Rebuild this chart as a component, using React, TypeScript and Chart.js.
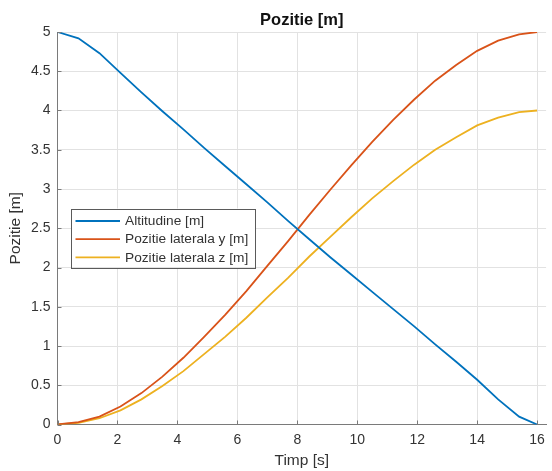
import React, { useEffect, useRef } from "react";
import { Chart, registerables } from "chart.js";

Chart.register(...registerables);

const timeS = [0, 0.7, 1.4, 2.1, 2.8, 3.5, 4.2, 4.9, 5.6, 6.3, 7.0, 7.7, 8.4, 9.1, 9.8, 10.5, 11.2, 11.9, 12.6, 13.3, 14.0, 14.7, 15.4, 16.0];
const altitude = [5.0, 4.92, 4.73, 4.48, 4.23, 3.99, 3.76, 3.52, 3.29, 3.06, 2.83, 2.59, 2.36, 2.13, 1.91, 1.69, 1.47, 1.25, 1.02, 0.8, 0.57, 0.32, 0.1, 0.0];
const lateralY = [0, 0.03, 0.1, 0.23, 0.4, 0.61, 0.85, 1.12, 1.4, 1.7, 2.02, 2.34, 2.67, 2.99, 3.3, 3.6, 3.88, 4.14, 4.38, 4.58, 4.76, 4.89, 4.97, 5.0];
const lateralZ = [0, 0.02, 0.08, 0.18, 0.32, 0.49, 0.68, 0.9, 1.12, 1.36, 1.62, 1.87, 2.14, 2.39, 2.64, 2.88, 3.1, 3.31, 3.5, 3.66, 3.81, 3.91, 3.98, 4.0];

const xTicks = [0, 2, 4, 6, 8, 10, 12, 14, 16];
const yTicks = [0, 0.5, 1, 1.5, 2, 2.5, 3, 3.5, 4, 4.5, 5];

const seriesLabels = ["Altitudine [m]", "Pozitie laterala y [m]", "Pozitie laterala z [m]"];
const seriesColors = ["#0072BD", "#D95319", "#EDB120"];
const seriesValues = [altitude, lateralY, lateralZ];

const chartTitle = "Pozitie [m]";
const xTitle = "Timp [s]";
const yTitle = "Pozitie [m]";

const FONT = "'Liberation Sans', Arial, Helvetica, sans-serif";
const TEXT = "#333333";
const AXIS = "#7a7a7a";
const GRID = "#e2e2e2";

const innerTicksPlugin = {
  id: "innerTicks",
  afterDraw(chart: any) {
    const ctx = chart.ctx;
    const { left, bottom } = chart.chartArea;
    const xs = chart.scales.x;
    const ys = chart.scales.y;
    ctx.save();
    ctx.strokeStyle = AXIS;
    ctx.lineWidth = 1;
    ctx.beginPath();
    xTicks.forEach((v) => {
      const px = Math.round(xs.getPixelForValue(v)) + 0.5;
      ctx.moveTo(px, bottom);
      ctx.lineTo(px, bottom - 4);
    });
    yTicks.forEach((v) => {
      const py = Math.round(ys.getPixelForValue(v)) + 0.5;
      ctx.moveTo(left, py);
      ctx.lineTo(left + 4, py);
    });
    ctx.stroke();
    ctx.restore();
  },
};

const insetLegendPlugin = {
  id: "insetLegend",
  afterDraw(chart: any) {
    const ctx = chart.ctx;
    const { left, top } = chart.chartArea;
    const bx = left + 13.5;
    const by = top + 176.5;
    const bw = 184;
    const bh = 58.5;
    ctx.save();
    ctx.fillStyle = "#ffffff";
    ctx.fillRect(bx, by, bw, bh);
    ctx.strokeStyle = "#5a5a5a";
    ctx.lineWidth = 1;
    ctx.strokeRect(Math.round(bx) + 0.5, Math.round(by) + 0.5, Math.round(bw), Math.round(bh));
    ctx.font = `13.7px ${FONT}`;
    ctx.textBaseline = "middle";
    ctx.textAlign = "left";
    chart.data.datasets.forEach((ds: any, i: number) => {
      const cy = by + 12.5 + i * 18.2;
      ctx.strokeStyle = ds.borderColor;
      ctx.lineWidth = 1.8;
      ctx.beginPath();
      ctx.moveTo(bx + 4.5, cy);
      ctx.lineTo(bx + 49, cy);
      ctx.stroke();
      ctx.fillStyle = TEXT;
      ctx.fillText(ds.label, bx + 54, cy + 0.5);
    });
    ctx.restore();
  },
};

export default function App() {
  const canvasRef = useRef<HTMLCanvasElement | null>(null);

  useEffect(() => {
    document.body.style.margin = "0";
    const canvas = canvasRef.current;
    if (!canvas) return;
    const chart = new Chart(canvas, {
      type: "line",
      data: {
        datasets: seriesValues.map((vals, i) => ({
          label: seriesLabels[i],
          data: timeS.map((t, k) => ({ x: t, y: vals[k] })),
          borderColor: seriesColors[i],
          backgroundColor: seriesColors[i],
          borderWidth: 1.8,
          pointRadius: 0,
          tension: 0,
          fill: false,
        })),
      },
      options: {
        responsive: false,
        animation: false,
        layout: { padding: 0 },
        plugins: {
          legend: { display: false },
          tooltip: { enabled: false },
          title: {
            display: true,
            text: chartTitle,
            fullSize: false,
            color: "#111",
            font: { family: FONT, size: 16.5, weight: "bold" },
            padding: { top: 11, bottom: 1.2 },
          },
        },
        scales: {
          x: {
            type: "linear",
            min: 0,
            max: 16.3,
            afterBuildTicks: (s: any) => {
              s.ticks = xTicks.map((v) => ({ value: v }));
            },
            afterFit: (s: any) => {
              s.height = 46.5;
            },
            ticks: {
              color: TEXT,
              font: { family: FONT, size: 14 },
              padding: 7,
              maxRotation: 0,
              callback: (v: any) => String(v),
            },
            grid: { color: GRID, drawTicks: false, lineWidth: 1 },
            border: { display: true, color: AXIS, width: 1 },
            title: {
              display: true,
              text: xTitle,
              color: TEXT,
              font: { family: FONT, size: 15.5 },
              padding: { top: 0, bottom: 0.7 },
            },
          },
          y: {
            type: "linear",
            min: 0,
            max: 5,
            afterBuildTicks: (s: any) => {
              s.ticks = yTicks.map((v) => ({ value: v }));
            },
            afterFit: (s: any) => {
              s.width = 57.5;
            },
            ticks: {
              color: TEXT,
              font: { family: FONT, size: 14 },
              padding: 7,
              callback: (v: any) => String(v),
            },
            grid: { color: GRID, drawTicks: false, lineWidth: 1 },
            border: { display: true, color: AXIS, width: 1 },
            title: {
              display: true,
              text: yTitle,
              color: TEXT,
              font: { family: FONT, size: 15.5 },
              padding: { top: 6.7, bottom: 0 },
            },
          },
        },
      },
      plugins: [innerTicksPlugin, insetLegendPlugin],
    });
    return () => chart.destroy();
  }, []);

  return (
    <div style={{ width: 552, height: 471, background: "#fff" }}>
      <canvas ref={canvasRef} width={552} height={471} style={{ display: "block" }} />
    </div>
  );
}
